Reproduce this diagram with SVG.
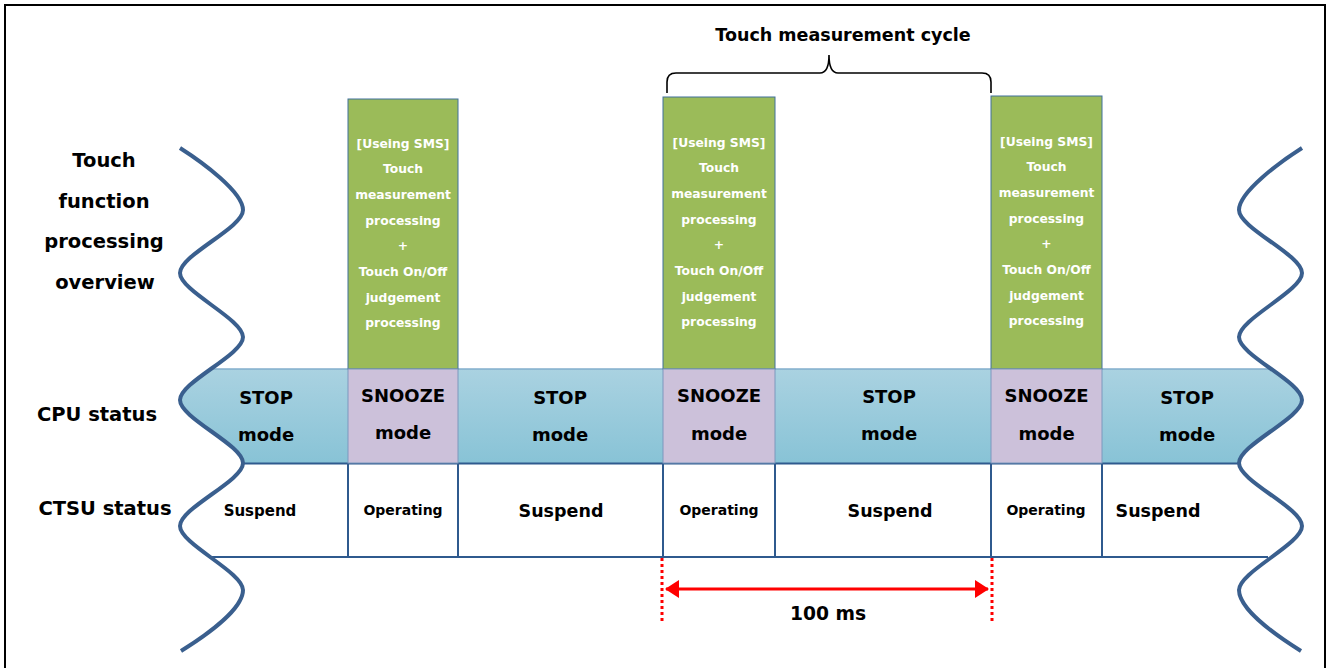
<svg xmlns="http://www.w3.org/2000/svg" width="1328" height="668" viewBox="0 0 1328 668">
<defs>
<linearGradient id="band" x1="0" y1="0" x2="0" y2="1">
<stop offset="0" stop-color="#aad2e1"/>
<stop offset="1" stop-color="#88c3d6"/>
</linearGradient>
<marker id="ah" markerUnits="userSpaceOnUse" markerWidth="14" markerHeight="18" refX="13" refY="9" orient="auto-start-reverse">
<path d="M0,0 L14,9 L0,18 z" fill="#ff0000"/>
</marker>
<style>
text{font-family:"DejaVu Sans","Liberation Sans",sans-serif;font-weight:bold;fill:#000;text-anchor:middle}
.lbl{font-size:19.5px}
.wt{font-size:12.3px;fill:#ffffff}
.md{font-size:18px}
.op{font-size:14px}
.sp{font-size:17.5px}
.green{fill:#9bbb59;stroke:#41719c;stroke-width:1}
.snz{fill:#ccc1da;stroke:#7c98bd;stroke-width:1}
.vline{stroke:#2f5a8e;stroke-width:2}
.wave{fill:none;stroke:#3a5f8e;stroke-width:4;stroke-linecap:butt}
</style>
</defs>
<rect x="5" y="5" width="1320" height="720" fill="#ffffff" stroke="#000000" stroke-width="2"/>

<g id="cpu-band">
<path d="M211.5,368.5 C195.75,379.75 180,391 180,400 C180,418 243,445 243,463 L1238,463 C1238,445 1302,418 1302,400 C1302,391 1286,379.75 1270,368.5 Z" fill="url(#band)"/>
<line x1="212" y1="369" x2="1270" y2="369" stroke="#6f9cc2" stroke-width="1.2"/>
<line x1="243" y1="463.5" x2="1240" y2="463.5" stroke="#2f5a8e" stroke-width="2"/>
</g>

<g id="ctsu-row">
<line x1="212" y1="557" x2="1268" y2="557" stroke="#2f5a8e" stroke-width="2"/>
<line class="vline" x1="348" y1="463" x2="348" y2="557"/>
<line class="vline" x1="458" y1="463" x2="458" y2="557"/>
<line class="vline" x1="663" y1="463" x2="663" y2="557"/>
<line class="vline" x1="775" y1="463" x2="775" y2="557"/>
<line class="vline" x1="991" y1="463" x2="991" y2="557"/>
<line class="vline" x1="1102" y1="463" x2="1102" y2="557"/>
</g>

<g id="proc1">
<rect class="green" x="348" y="99" width="110" height="270"/>
<text class="wt" x="403" y="147.5">[Useing SMS]</text>
<text class="wt" x="403" y="173.2">Touch</text>
<text class="wt" x="403" y="198.9">measurement</text>
<text class="wt" x="403" y="224.6">processing</text>
<text class="wt" x="403" y="250.3">+</text>
<text class="wt" x="403" y="276">Touch On/Off</text>
<text class="wt" x="403" y="301.7">judgement</text>
<text class="wt" x="403" y="327.4">processing</text>
</g>
<g id="proc2">
<rect class="green" x="663" y="97" width="112" height="272"/>
<text class="wt" x="719" y="146.5">[Useing SMS]</text>
<text class="wt" x="719" y="172.2">Touch</text>
<text class="wt" x="719" y="197.9">measurement</text>
<text class="wt" x="719" y="223.6">processing</text>
<text class="wt" x="719" y="249.3">+</text>
<text class="wt" x="719" y="275">Touch On/Off</text>
<text class="wt" x="719" y="300.7">judgement</text>
<text class="wt" x="719" y="326.4">processing</text>
</g>
<g id="proc3">
<rect class="green" x="991" y="96" width="111" height="273"/>
<text class="wt" x="1046.5" y="145.5">[Useing SMS]</text>
<text class="wt" x="1046.5" y="171.2">Touch</text>
<text class="wt" x="1046.5" y="196.9">measurement</text>
<text class="wt" x="1046.5" y="222.6">processing</text>
<text class="wt" x="1046.5" y="248.3">+</text>
<text class="wt" x="1046.5" y="274">Touch On/Off</text>
<text class="wt" x="1046.5" y="299.7">judgement</text>
<text class="wt" x="1046.5" y="325.4">processing</text>
</g>

<g id="snooze1"><rect class="snz" x="348" y="369" width="110" height="94"/><text class="md" x="403" y="401.5">SNOOZE</text><text class="md" x="403" y="439">mode</text></g>
<g id="snooze2"><rect class="snz" x="663" y="369" width="112" height="94"/><text class="md" x="719" y="402">SNOOZE</text><text class="md" x="719" y="439.5">mode</text></g>
<g id="snooze3"><rect class="snz" x="991" y="369" width="111" height="94"/><text class="md" x="1046.5" y="402">SNOOZE</text><text class="md" x="1046.5" y="440">mode</text></g>

<g id="stop1"><text class="md" x="266" y="403.5">STOP</text><text class="md" x="266" y="440.5">mode</text></g>
<g id="stop2"><text class="md" x="560" y="403.5">STOP</text><text class="md" x="560" y="440.5">mode</text></g>
<g id="stop3"><text class="md" x="889" y="402.5">STOP</text><text class="md" x="889" y="439.5">mode</text></g>
<g id="stop4"><text class="md" x="1187" y="403.5">STOP</text><text class="md" x="1187" y="440.5">mode</text></g>

<g id="ctsu-texts">
<text x="260" y="516" style="font-size:15px">Suspend</text>
<text class="op" x="403" y="515">Operating</text>
<text class="sp" x="561" y="516.5">Suspend</text>
<text class="op" x="719" y="515">Operating</text>
<text class="sp" x="890" y="516.5">Suspend</text>
<text class="op" x="1046" y="515">Operating</text>
<text class="sp" x="1158" y="516.5">Suspend</text>
</g>

<g id="labels">
<text class="lbl" x="104" y="167">Touch</text>
<text class="lbl" x="104" y="208">function</text>
<text class="lbl" x="104" y="248">processing</text>
<text class="lbl" x="105" y="289">overview</text>
<text class="lbl" x="97" y="421">CPU status</text>
<text class="lbl" x="105" y="515">CTSU status</text>
</g>

<g id="waves">
<path class="wave" d="M180,148 C202,162 243,192 243,210 C243,228 180,255 180,273 C180,291 243,319 243,337 C243,355 180,382 180,400 C180,418 243,445 243,463 C243,481 180,508 180,526 C180,544 243,572 243,590 C243,608 210,633 181,651"/>
<path class="wave" d="M1302,148 C1280,162 1239,192 1239,210 C1239,228 1302,255 1302,273 C1302,291 1239,319 1239,337 C1239,355 1302,382 1302,400 C1302,418 1239,445 1239,463 C1239,481 1302,508 1302,526 C1302,544 1239,572 1239,590 C1239,608 1272,633 1301,651"/>
</g>

<g id="cycle">
<path d="M667,93 L667,82 Q667,73 676,73 L820,73 Q829,73 829,55 Q829,73 838,73 L982,73 Q991,73 991,82 L991,93" fill="none" stroke="#000" stroke-width="1.6"/>
<text x="843" y="41" style="font-size:17.5px">Touch measurement cycle</text>
</g>

<g id="connectors">
<line x1="662" y1="558" x2="662" y2="621" stroke="#ff0000" stroke-width="3" stroke-dasharray="3 3"/>
<line x1="992" y1="558" x2="992" y2="621" stroke="#ff0000" stroke-width="3" stroke-dasharray="3 3"/>
<line x1="666" y1="589" x2="988" y2="589" stroke="#ff0000" stroke-width="3" marker-start="url(#ah)" marker-end="url(#ah)"/>
<text x="828" y="620" style="font-size:18.7px">100 ms</text>
</g>
</svg>
